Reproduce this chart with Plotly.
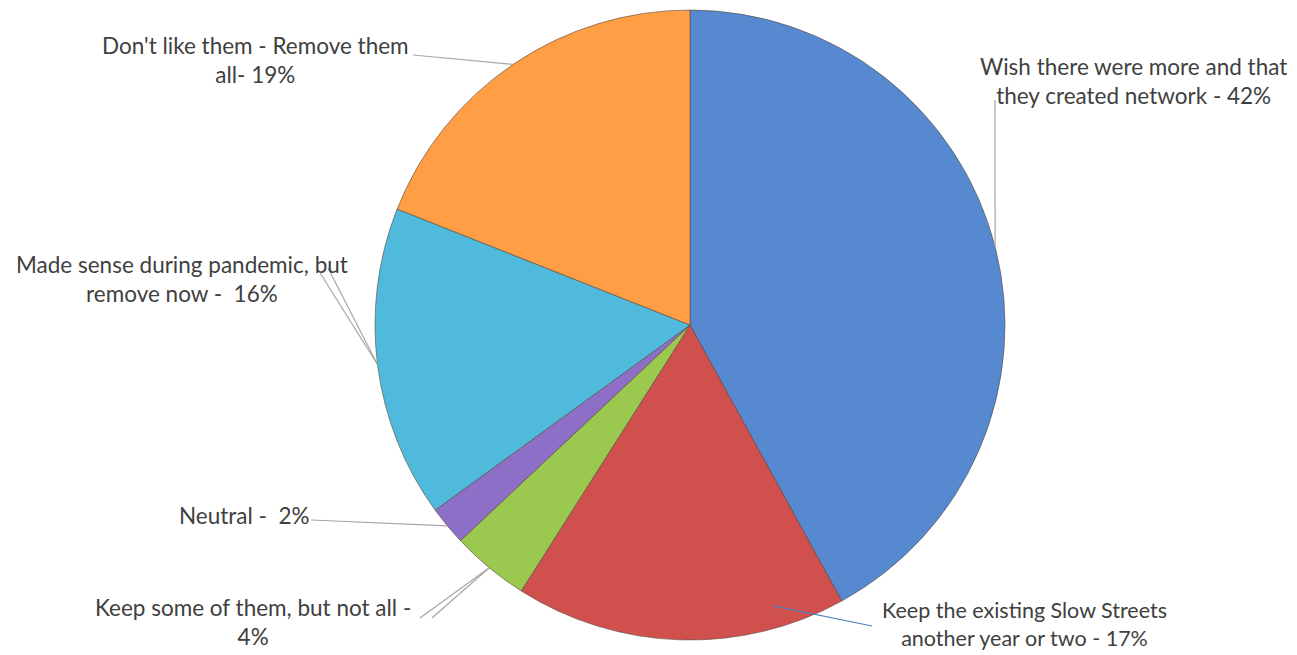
import math
import plotly.graph_objects as go

W, H = 1297, 655

labels = [
    "Wish there were more and that<br>they created network - 42%",
    "Keep the existing Slow Streets<br>another year or two - 17%",
    "Keep some of them, but not all -<br>4%",
    "Neutral -  2%",
    "Made sense during pandemic, but<br>remove now -  16%",
    "Don't like them - Remove them<br>all- 19%",
]
values = [42, 17, 4, 2, 16, 19]
colors = ["#5689D0", "#D0504E", "#9BC84E", "#8D6FC7", "#4FBADB", "#FF9E45"]

# label placement (pixel centres) and leader line anchors (px) on label side
label_pos = [(1133, 81), (1024, 624), (253, 622), (244, 515), (182, 279), (255, 60)]
label_size = [22.5, 21.5, 22.5, 22.5, 22.5, 22.5]
leader_starts = [[(995, 100)], [(872, 626)], [(420, 618), (432, 618)], [(311, 520)],
                 [(317, 268), (328, 268)], [(413, 55)]]
# position within slice (fraction of slice angle) and radius fraction for leader end
leader_frac = [(0.5, 1.0), (0.2, 0.93), (0.5, 1.0), (0.5, 1.0), (0.5, 1.0), (0.5, 1.0)]
leader_col = ["#A6A6A6", "#4F81BD", "#A6A6A6", "#A6A6A6", "#A6A6A6", "#A6A6A6"]

cx, cy, R = 690, 325, 315

fig = go.Figure(go.Pie(
    values=values,
    labels=[l.replace("<br>", " ") for l in labels],
    sort=False,
    direction="clockwise",
    rotation=0,
    textinfo="none",
    hoverinfo="label",
    marker=dict(colors=colors, line=dict(color="rgba(90,70,60,0.6)", width=1)),
    domain=dict(x=[(cx - R) / W, (cx + R) / W], y=[1 - (cy + R) / H, 1 - (cy - R) / H]),
    showlegend=False,
))

def px2paper(x, y):
    return x / W, 1 - y / H

shapes = []
annotations = []
total = sum(values)
cum = 0
for i, v in enumerate(values):
    a0 = cum / total * 360
    a1 = (cum + v) / total * 360
    cum += v
    f, rf = leader_frac[i]
    th = math.radians(a0 + (a1 - a0) * f)
    ex = cx + R * rf * math.sin(th)
    ey = cy - R * rf * math.cos(th)
    x1, y1 = px2paper(ex, ey)
    for (sx, sy) in leader_starts[i]:
        x0, y0 = px2paper(sx, sy)
        shapes.append(dict(type="line", xref="paper", yref="paper", x0=x0, y0=y0, x1=x1, y1=y1,
                           line=dict(color=leader_col[i], width=1.2)))
    lx, ly = px2paper(*label_pos[i])
    annotations.append(dict(x=lx, y=ly, xref="paper", yref="paper", text=labels[i],
                            showarrow=False, xanchor="center", yanchor="middle",
                            font=dict(family="Lato", size=label_size[i], color="#404040"),
                            align="center"))

fig.update_layout(
    width=W, height=H,
    margin=dict(l=0, r=0, t=0, b=0),
    paper_bgcolor="white", plot_bgcolor="white",
    shapes=shapes, annotations=annotations,
)

fig.write_html("out.html")
